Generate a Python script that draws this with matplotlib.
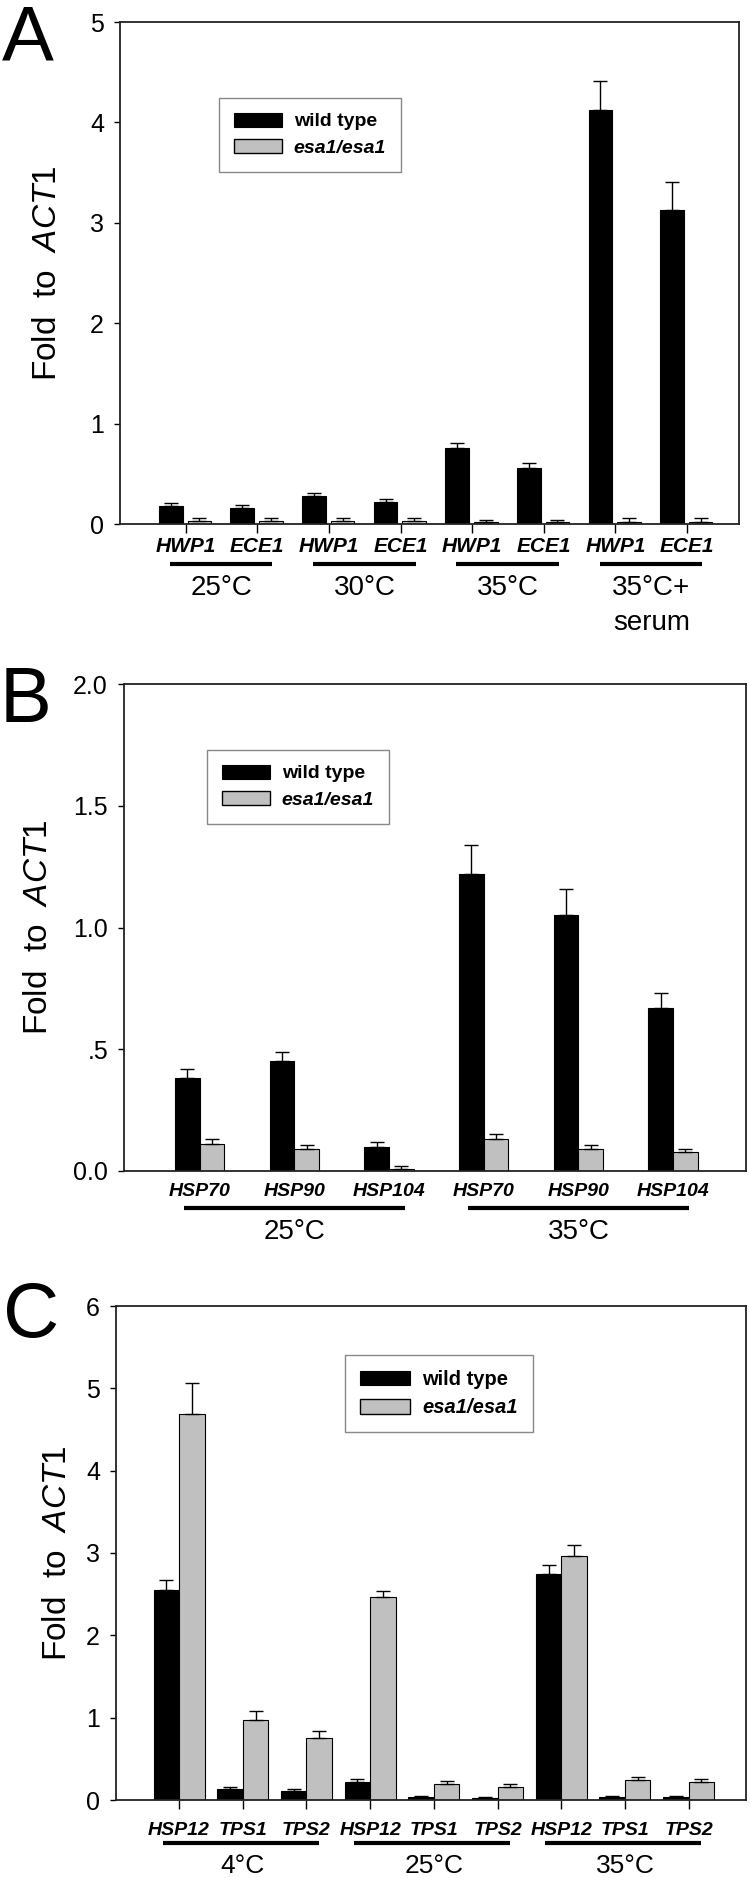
import matplotlib
matplotlib.use('Agg')
import matplotlib.pyplot as plt
from matplotlib.patches import Patch
import numpy as np

plt.rcParams['font.family'] = ['Liberation Sans', 'DejaVu Sans']
plt.rcParams['mathtext.fontset'] = 'custom'
plt.rcParams['mathtext.rm'] = 'Liberation Sans'
plt.rcParams['mathtext.it'] = 'Liberation Sans:italic'
plt.rcParams['mathtext.bf'] = 'Liberation Sans:bold'

# ---------------- data ----------------
a_genes = ['HWP1', 'ECE1', 'HWP1', 'ECE1', 'HWP1', 'ECE1', 'HWP1', 'ECE1']
a_groups = ['25°C', '30°C', '35°C', '35°C+']
a_group_extra = 'serum'
a_wt = [0.18, 0.16, 0.28, 0.22, 0.76, 0.56, 4.12, 3.13]
a_wt_err = [0.03, 0.03, 0.03, 0.03, 0.05, 0.05, 0.29, 0.28]
a_mut = [0.03, 0.03, 0.03, 0.03, 0.015, 0.015, 0.02, 0.02]
a_mut_err = [0.03, 0.03, 0.03, 0.03, 0.025, 0.025, 0.035, 0.035]
a_yticks = [0, 1, 2, 3, 4, 5]
a_yticklabels = ['0', '1', '2', '3', '4', '5']

b_genes = ['HSP70', 'HSP90', 'HSP104', 'HSP70', 'HSP90', 'HSP104']
b_groups = ['25°C', '35°C']
b_wt = [0.38, 0.45, 0.10, 1.22, 1.05, 0.67]
b_wt_err = [0.04, 0.04, 0.02, 0.12, 0.11, 0.06]
b_mut = [0.11, 0.09, 0.01, 0.13, 0.09, 0.08]
b_mut_err = [0.02, 0.015, 0.01, 0.02, 0.015, 0.012]
b_yticks = [0.0, 0.5, 1.0, 1.5, 2.0]
b_yticklabels = ['0.0', '.5', '1.0', '1.5', '2.0']

c_genes = ['HSP12', 'TPS1', 'TPS2', 'HSP12', 'TPS1', 'TPS2', 'HSP12', 'TPS1', 'TPS2']
c_groups = ['4°C', '25°C', '35°C']
c_wt = [2.55, 0.135, 0.11, 0.22, 0.035, 0.025, 2.74, 0.04, 0.035]
c_wt_err = [0.12, 0.02, 0.02, 0.04, 0.01, 0.006, 0.12, 0.012, 0.015]
c_mut = [4.69, 0.975, 0.75, 2.46, 0.19, 0.16, 2.96, 0.245, 0.22]
c_mut_err = [0.37, 0.11, 0.09, 0.08, 0.035, 0.03, 0.14, 0.03, 0.035]
c_yticks = [0, 1, 2, 3, 4, 5, 6]
c_yticklabels = ['0', '1', '2', '3', '4', '5', '6']

series_labels = ['wild type', 'esa1/esa1']
ylabel = r'Fold  to  $ACT1$'

# ---------------- layout ----------------
W, H = 750, 1878
fig = plt.figure(figsize=(W / 100, H / 100), dpi=100)


def rect(left, right, top, bottom):
    return [left / W, 1 - bottom / H, (right - left) / W, (bottom - top) / H]


GRAY = '#c0c0c0'
PT = 0.72  # points per pixel at dpi 100


def draw(ax, genes, wt, wt_err, mut, mut_err, off_wt, off_mut, width, xlim,
         ylim, yticks, yticklabels, xticks_on, capsize):
    x = np.arange(1, len(genes) + 1)
    ax.bar(x + off_wt, wt, width, color='black', edgecolor='black',
           linewidth=0.8, zorder=2)
    ax.bar(x + off_mut, mut, width, color=GRAY, edgecolor='black',
           linewidth=0.8, zorder=2)
    ax.errorbar(x + off_wt, wt, yerr=[np.zeros(len(wt)), wt_err], fmt='none',
                ecolor='black', elinewidth=1.0, capsize=capsize, capthick=1.0,
                zorder=3)
    ax.errorbar(x + off_mut, mut, yerr=[np.zeros(len(mut)), mut_err],
                fmt='none', ecolor='black', elinewidth=1.0, capsize=capsize,
                capthick=1.0, zorder=3)
    ax.set_xlim(*xlim)
    ax.set_ylim(*ylim)
    ax.set_yticks(yticks)
    ax.set_yticklabels(yticklabels, fontsize=18)
    ax.tick_params(axis='y', direction='out', length=6 * PT, width=1,
                   pad=10 * PT)
    if xticks_on:
        ax.set_xticks(x)
        ax.tick_params(axis='x', direction='out', length=9 * PT, width=1,
                       labelbottom=False)
    else:
        ax.set_xticks([])
    for s in ax.spines.values():
        s.set_linewidth(1.3)
        s.set_color('#222222')
    return x


def gene_labels(ax, x, genes, below_px, fs):
    for xi, g in zip(x, genes):
        ax.annotate(g, xy=(xi, 0), xycoords=ax.get_xaxis_transform(),
                    xytext=(0, -below_px * PT), textcoords='offset points',
                    ha='center', va='baseline', fontsize=fs,
                    fontweight='bold', fontstyle='italic', annotation_clip=False)


def group_lines(ax, spans, labels, line_px, label_px, fs, ax_h_px, pad_l, pad_r):
    y = -line_px / ax_h_px
    for (a, b), lab in zip(spans, labels):
        ax.plot([a - pad_l, b + pad_r], [y, y], color='black', lw=3.0,
                solid_capstyle='butt', transform=ax.get_xaxis_transform(),
                clip_on=False)
        ax.annotate(lab, xy=((a + b) / 2, 0), xycoords=ax.get_xaxis_transform(),
                    xytext=(0, -label_px * PT), textcoords='offset points',
                    ha='center', va='baseline', fontsize=fs,
                    annotation_clip=False)


def legend(ax, anchor, fs):
    handles = [Patch(facecolor='black', edgecolor='black', linewidth=0.8,
                     label=series_labels[0]),
               Patch(facecolor=GRAY, edgecolor='black', linewidth=1.0,
                     label=series_labels[1])]
    leg = ax.legend(handles=handles, loc='upper left', bbox_to_anchor=anchor,
                    frameon=True, fancybox=False, edgecolor='#888888',
                    framealpha=1, fontsize=fs, handlelength=2.5,
                    handleheight=0.75, handletextpad=0.6, labelspacing=0.45,
                    borderpad=0.75, borderaxespad=0)
    for t in leg.get_texts():
        t.set_fontweight('bold')
    leg.get_texts()[1].set_fontstyle('italic')
    leg.get_frame().set_linewidth(1.0)


# ---------------- panel A ----------------
A_l, A_r, A_t, A_b = 120, 739, 22, 524
axA = fig.add_axes(rect(A_l, A_r, A_t, A_b))
xA = draw(axA, a_genes, a_wt, a_wt_err, a_mut, a_mut_err, -0.21, 0.19, 0.33,
          (0.082, 8.726), (0, 5), a_yticks, a_yticklabels, True, 5)
gene_labels(axA, xA, a_genes, 28, 15)
group_lines(axA, [(1, 2), (3, 4), (5, 6), (7, 8)], a_groups, 40, 71, 20,
            A_b - A_t, 0.22, 0.21)
axA.annotate(a_group_extra, xy=(7.5, 0), xycoords=axA.get_xaxis_transform(),
             xytext=(0, -106 * PT), textcoords='offset points', ha='center',
             va='baseline', fontsize=20, annotation_clip=False)
legend(axA, ((219 - A_l) / (A_r - A_l), (A_b - 98) / (A_b - A_t)), 14)
axA.set_ylabel(ylabel, fontsize=24, va='center')
axA.yaxis.set_label_coords((48 - A_l) / (A_r - A_l), 0.5)

# ---------------- panel B ----------------
B_l, B_r, B_t, B_b = 124, 746, 684, 1171
axB = fig.add_axes(rect(B_l, B_r, B_t, B_b))
xB = draw(axB, b_genes, b_wt, b_wt_err, b_mut, b_mut_err, -0.13, 0.13, 0.26,
          (0.2, 6.77), (0, 2), b_yticks, b_yticklabels, False, 5)
gene_labels(axB, xB, b_genes, 25, 14)
group_lines(axB, [(1, 3), (4, 6)], b_groups, 37, 68, 20, B_b - B_t, 0.17, 0.17)
legend(axB, ((207 - B_l) / (B_r - B_l), (B_b - 750) / (B_b - B_t)), 14)
axB.set_ylabel(ylabel, fontsize=24, va='center')
axB.yaxis.set_label_coords((39 - B_l) / (B_r - B_l), 0.5)

# ---------------- panel C ----------------
C_l, C_r, C_t, C_b = 116, 746, 1306, 1800
axC = fig.add_axes(rect(C_l, C_r, C_t, C_b))
xC = draw(axC, c_genes, c_wt, c_wt_err, c_mut, c_mut_err, -0.2, 0.2, 0.4,
          (0.01, 9.9), (0, 6), c_yticks, c_yticklabels, True, 5)
gene_labels(axC, xC, c_genes, 35, 14)
group_lines(axC, [(1, 3), (4, 6), (7, 9)], c_groups, 43, 73, 19, C_b - C_t,
            0.25, 0.2)
legend(axC, ((345 - C_l) / (C_r - C_l), (C_b - 1355) / (C_b - C_t)), 14.5)
axC.set_ylabel(ylabel, fontsize=24, va='center')
axC.yaxis.set_label_coords((57 - C_l) / (C_r - C_l), 0.5)

# ---------------- panel letters ----------------
for letter, x0, ybase in [('A', 2, 60), ('B', 0, 722), ('C', 3, 1337)]:
    fig.text(x0 / W, 1 - ybase / H, letter, fontsize=56, ha='left',
             va='baseline')

fig.savefig('out.png', dpi=100)
